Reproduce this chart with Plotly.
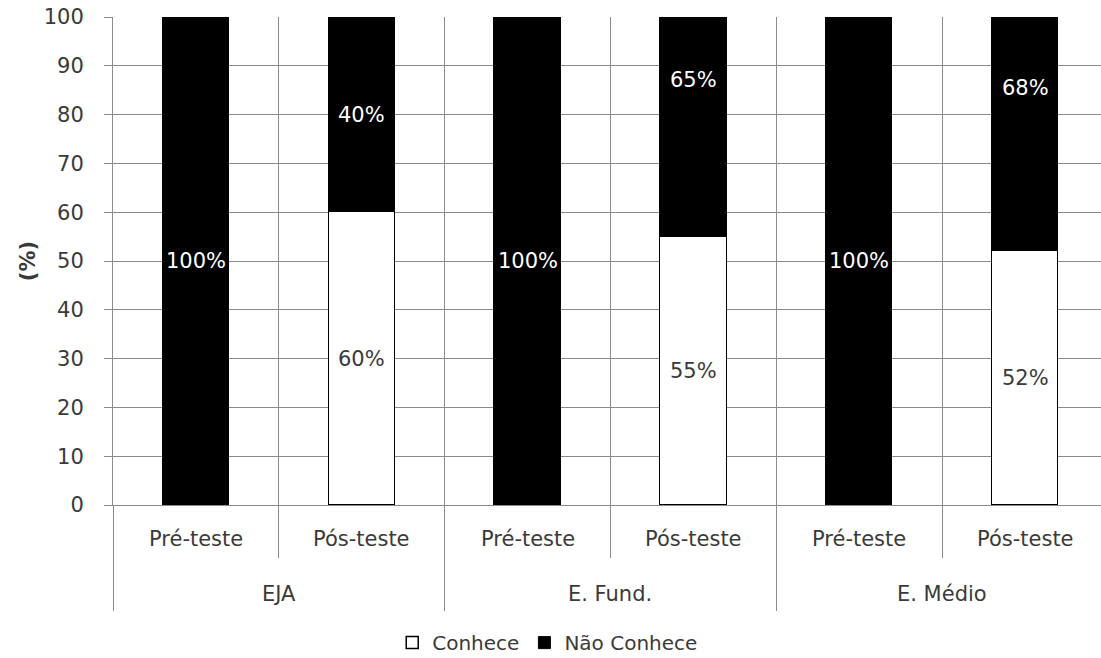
import plotly.graph_objects as go

groups = ["EJA", "E. Fund.", "E. Médio"]
phases = ["Pré-teste", "Pós-teste"]
conhece = [0, 60, 0, 55, 0, 52]
nao_conhece = [100, 40, 100, 45, 100, 48]
conhece_labels = ["", "60%", "", "55%", "", "52%"]
nao_labels = ["100%", "40%", "100%", "65%", "100%", "68%"]
# vertical anchor of the "Não Conhece" labels as printed in the original
nao_label_y = [50, 80, 50, 87, 50, 85.5]

FONT = "DejaVu Sans"
FS = 21
TXT = "#3a3a3a"
GRID = "#8a8a8a"

xs = list(range(len(conhece)))

fig = go.Figure()
fig.add_trace(go.Bar(x=xs, y=conhece, name="Conhece", width=0.4,
                     marker=dict(color="white", line=dict(color="black", width=1.5))))
fig.add_trace(go.Bar(x=xs, y=nao_conhece, name="Não Conhece", width=0.4,
                     marker=dict(color="black", line=dict(color="black", width=1))))

ann = []
for i, (v, t) in enumerate(zip(conhece, conhece_labels)):
    if t:
        ann.append(dict(x=xs[i], y=v / 2, xref="x", yref="y", text=t, showarrow=False,
                        font=dict(family=FONT, size=FS, color=TXT)))
for i, t in enumerate(nao_labels):
    ann.append(dict(x=xs[i], y=nao_label_y[i], xref="x", yref="y", text=t, showarrow=False,
                    font=dict(family=FONT, size=FS, color="white")))
# category labels (pixel rows converted to paper coords below)
for i in xs:
    ann.append(dict(x=xs[i], y=539, xref="x", yref="paper", text=phases[i % 2], showarrow=False,
                    font=dict(family=FONT, size=FS, color=TXT)))
for g, name in enumerate(groups):
    ann.append(dict(x=2 * g + 0.5, y=594, xref="x", yref="paper", text=name, showarrow=False,
                    font=dict(family=FONT, size=FS, color=TXT)))
top, bottom = 17, 505
for a in ann:
    if a["yref"] == "paper":
        a["y"] = (bottom - a["y"]) / (bottom - top)
        a["yanchor"] = "middle"

fig.update_layout(
    width=1101, height=658,
    margin=dict(l=113, r=0, t=17, b=153, autoexpand=False),
    plot_bgcolor="white", paper_bgcolor="white",
    barmode="stack", bargap=0,
    font=dict(family=FONT, size=FS, color=TXT),
    annotations=ann,
    showlegend=True,
    legend=dict(orientation="h", x=0.44, xanchor="center", y=-0.282, yanchor="middle",
                font=dict(family=FONT, size=20, color=TXT), traceorder="normal",
                itemwidth=30, borderwidth=0),
    xaxis=dict(range=[-0.5, 5.458], tickmode="array", tickvals=[-0.5, 1.5, 3.5, 5.5],
               showticklabels=False, ticks="outside", ticklen=105, tickcolor=GRID, tickwidth=1,
               showgrid=True, gridcolor=GRID, gridwidth=1, zeroline=False,
               showline=True, linecolor=GRID, linewidth=1,
               minor=dict(tickmode="array", tickvals=[0.5, 2.5, 4.5], ticks="outside",
                          ticklen=52, tickcolor=GRID, tickwidth=1,
                          showgrid=True, gridcolor=GRID, gridwidth=1)),
    yaxis=dict(range=[0, 100], dtick=10, ticks="outside", ticklen=8, tickcolor=GRID,
               showgrid=True, gridcolor=GRID, gridwidth=1, zeroline=False,
               showline=True, linecolor=GRID, linewidth=1,
               ticklabelstandoff=16,
               tickfont=dict(family=FONT, size=FS, color=TXT),
               title=dict(text="<b>(%)</b>", font=dict(family=FONT, size=FS, color=TXT),
                          standoff=2)),
)

fig.write_html("out.html")
